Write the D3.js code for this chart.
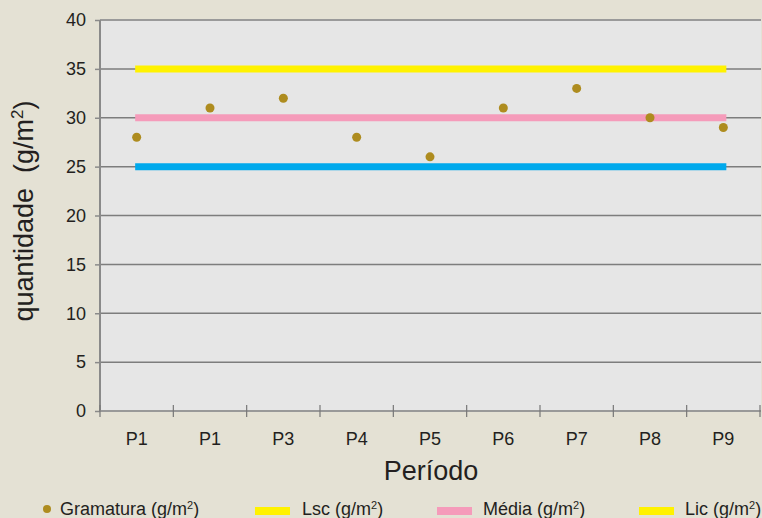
<!DOCTYPE html>
<html>
<head>
<meta charset="utf-8">
<script src="https://cdn.jsdelivr.net/npm/d3@7"></script>
<style>
  html, body { margin: 0; padding: 0; background: #e4e1d4; }
  svg { display: block; font-family: "Liberation Sans", Arial, Helvetica, sans-serif; }
</style>
</head>
<body>
<svg id="chart" width="762" height="518"></svg>
<script>
const categories = ["P1", "P1", "P3", "P4", "P5", "P6", "P7", "P8", "P9"];
const gramatura = [28, 31, 32, 28, 26, 31, 33, 30, 29];
const lsc = [35, 35, 35, 35, 35, 35, 35, 35, 35];
const media = [30, 30, 30, 30, 30, 30, 30, 30, 30];
const lic = [25, 25, 25, 25, 25, 25, 25, 25, 25];
const yTicks = [0, 5, 10, 15, 20, 25, 30, 35, 40];

const colors = { dot: "#ae8c1f", lsc: "#fff200", media: "#f59bba", lic: "#00a9ec", licLegend: "#fff200" };
const textColor = "#231f20";

const svg = d3.select("#chart");
const W = 762, H = 518;
const plot = { left: 100, right: 760, top: 20, bottom: 411 };

svg.append("rect").attr("width", W).attr("height", H).attr("fill", "#e4e1d4");

const x = d3.scaleBand().domain(d3.range(categories.length)).range([plot.left, plot.right]).padding(0);
const y = d3.scaleLinear().domain([0, 40]).range([plot.bottom, plot.top]);
const cx = i => x(i) + x.bandwidth() / 2;

// plot background
svg.append("rect")
  .attr("x", plot.left).attr("y", plot.top)
  .attr("width", plot.right + 1 - plot.left).attr("height", plot.bottom - plot.top)
  .attr("fill", "#e6e6e6");

// gridlines
svg.append("g").selectAll("line").data(yTicks.filter(d => d > 0)).join("line")
  .attr("x1", plot.left).attr("x2", plot.right + 1)
  .attr("y1", d => y(d)).attr("y2", d => y(d))
  .attr("stroke", d => d === 40 ? "#9a9a9a" : "#7d7d7d")
  .attr("stroke-width", d => d === 40 ? 2 : 1.5);

// y axis
const yAxis = d3.axisLeft(y).tickValues(yTicks).tickSize(5).tickPadding(9);
const gy = svg.append("g").attr("transform", `translate(${plot.left},0)`).call(yAxis);
gy.select(".domain").remove();
gy.selectAll(".tick line").attr("stroke", "#8a8a8a").attr("stroke-width", 1.5);
gy.selectAll(".tick text").attr("fill", textColor).style("font-size", "18px");

svg.append("line")
  .attr("x1", plot.left).attr("x2", plot.left)
  .attr("y1", plot.top).attr("y2", plot.bottom + 1)
  .attr("stroke", "#8a8a8a").attr("stroke-width", 2);

// x axis
svg.append("line")
  .attr("x1", plot.left).attr("x2", plot.right + 1)
  .attr("y1", plot.bottom).attr("y2", plot.bottom)
  .attr("stroke", "#999").attr("stroke-width", 2);

const bounds = d3.range(categories.length + 1).map(i => i < categories.length ? x(i) : x(i - 1) + x.bandwidth());
svg.append("g").selectAll("line").data(bounds).join("line")
  .attr("x1", d => d).attr("x2", d => d)
  .attr("y1", plot.bottom - 6).attr("y2", plot.bottom + 6)
  .attr("stroke", "#777").attr("stroke-width", 1.2);

svg.append("g").selectAll("text").data(categories).join("text")
  .attr("x", (d, i) => cx(i)).attr("y", 445)
  .attr("text-anchor", "middle")
  .attr("fill", textColor).style("font-size", "18px")
  .text(d => d);

// reference lines
const refSeries = [
  { values: lsc, color: colors.lsc },
  { values: media, color: colors.media },
  { values: lic, color: colors.lic }
];
const line = d3.line().x(d => d[0]).y(d => y(d[1]));
refSeries.forEach(s => {
  const pts = s.values.map((v, i) => [cx(i), v]);
  pts[0] = [pts[0][0] - 1.5, pts[0][1]];
  pts[pts.length - 1] = [pts[pts.length - 1][0] + 3, pts[pts.length - 1][1]];
  svg.append("path").datum(pts)
    .attr("d", line).attr("fill", "none")
    .attr("stroke", s.color).attr("stroke-width", 7);
});

// points
svg.append("g").selectAll("circle").data(gramatura).join("circle")
  .attr("cx", (d, i) => cx(i)).attr("cy", d => y(d))
  .attr("r", 4.5).attr("fill", colors.dot);

// axis titles
const yt = svg.append("text")
  .attr("transform", "translate(33,211) rotate(-90)")
  .attr("text-anchor", "middle")
  .attr("fill", textColor).style("font-size", "27px");
yt.append("tspan").text("quantidade\u00a0\u00a0(g/m");
yt.append("tspan").attr("dy", -10).style("font-size", "17px").text("2");
yt.append("tspan").attr("dy", 10).text(")");

svg.append("text")
  .attr("x", 431).attr("y", 480)
  .attr("text-anchor", "middle")
  .attr("fill", textColor).style("font-size", "27px")
  .text("Período");

// legend
const legendItems = [
  { label: "Gramatura (g/m", type: "dot", color: colors.dot, sx: 47, tx: 60 },
  { label: "Lsc (g/m", type: "bar", color: colors.lsc, sx: 255, tx: 302 },
  { label: "Média (g/m", type: "bar", color: colors.media, sx: 437, tx: 483 },
  { label: "Lic (g/m", type: "bar", color: colors.licLegend, sx: 639, tx: 685 }
];
const lg = svg.append("g");
legendItems.forEach(it => {
  if (it.type === "dot") {
    lg.append("circle").attr("cx", it.sx).attr("cy", 509).attr("r", 4).attr("fill", it.color);
  } else {
    lg.append("rect").attr("x", it.sx).attr("y", 507).attr("width", 35).attr("height", 8).attr("fill", it.color);
  }
  const t = lg.append("text").attr("x", it.tx).attr("y", 515)
    .attr("fill", textColor).style("font-size", "18px");
  t.append("tspan").text(it.label);
  t.append("tspan").attr("dy", -6).style("font-size", "11px").text("2");
  t.append("tspan").attr("dy", 6).text(")");
});
</script>
</body>
</html>
